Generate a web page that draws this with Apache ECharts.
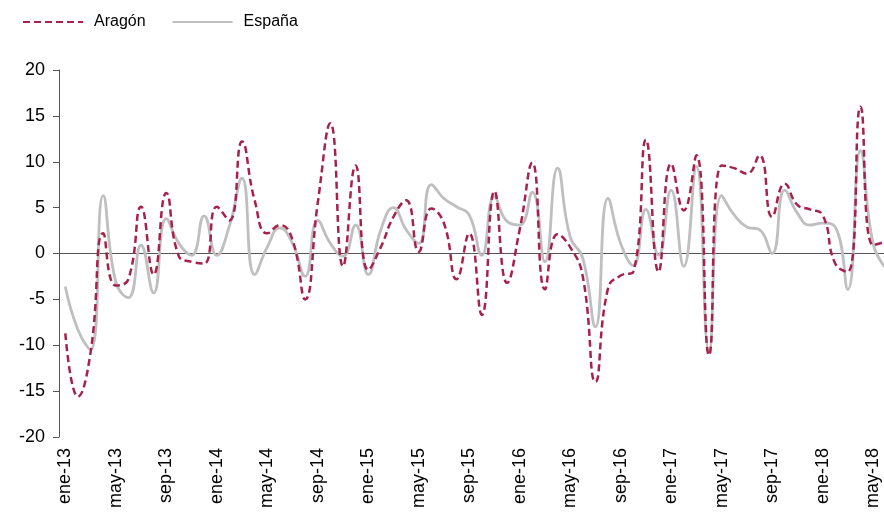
<!DOCTYPE html>
<html lang="es">
    <head>
        <meta charset="utf-8">
        <title>Aragón / España</title>
        <script type="text/javascript" src="https://cdn.jsdelivr.net/npm/echarts@6/dist/echarts.min.js"></script>
        <style>
            html, body { margin: 0; padding: 0; background: #fff; }
            #chart { width: 884px; height: 515px; }
        </style>
    </head>
    <body>
        <div id="chart"></div>
        <script>
            // meses ene-13 .. jun-18
            var meses = [
                'ene-13','feb-13','mar-13','abr-13','may-13','jun-13','jul-13','ago-13','sep-13','oct-13','nov-13','dic-13',
                'ene-14','feb-14','mar-14','abr-14','may-14','jun-14','jul-14','ago-14','sep-14','oct-14','nov-14','dic-14',
                'ene-15','feb-15','mar-15','abr-15','may-15','jun-15','jul-15','ago-15','sep-15','oct-15','nov-15','dic-15',
                'ene-16','feb-16','mar-16','abr-16','may-16','jun-16','jul-16','ago-16','sep-16','oct-16','nov-16','dic-16',
                'ene-17','feb-17','mar-17','abr-17','may-17','jun-17','jul-17','ago-17','sep-17','oct-17','nov-17','dic-17',
                'ene-18','feb-18','mar-18','abr-18','may-18','jun-18'
            ];
            var aragon = [
                -8.7, -15.6, -10.8, 2.2, -3.5, -2.8, 5.1, -2.3, 6.6, -0.3, -0.9, -1.1,
                5.1, 3.6, 12.2, 5.8, 2.2, 3.1, 1.5, -5.0, 5.5, 14.2, -1.4, 9.6,
                -1.8, 0.7, 4.0, 5.8, 0.2, 4.9, 3.3, -2.8, 2.2, -6.7, 6.8, -3.2,
                2.6, 9.9, -3.9, 2.1, 0.7, -2.5, -14.0, -3.8, -2.4, -2.0, 12.4, -2.0,
                9.8, 4.7, 10.7, -11.1, 9.6, 9.3, 8.7, 10.7, 4.0, 7.6, 5.3, 4.8,
                4.2, -1.1, -2.0, 16.0, 0.9, 1.3
            ];
            var espana = [
                -3.6, -8.3, -10.5, 6.3, -3.1, -4.8, 0.9, -4.3, 3.8, 1.1, -0.2, 4.1,
                -0.2, 3.0, 8.2, -2.3, 0.7, 2.8, 1.1, -2.5, 3.6, 1.1, -0.3, 3.1,
                -2.3, 2.6, 5.0, 2.6, 1.1, 7.5, 6.0, 5.1, 4.2, -0.2, 6.2, 3.5,
                3.1, 6.7, -0.9, 9.3, 1.8, -0.5, -8.0, 6.0, 1.1, -1.3, 4.8, -0.2,
                6.9, -1.4, 9.5, -10.7, 6.3, 4.2, 2.9, 2.6, 0.0, 6.9, 4.4, 3.1,
                3.3, 2.9, -3.9, 11.2, 1.1, -1.6
            ];
            var fuente = 'Liberation Sans, Arial, sans-serif';

            var myChart = echarts.init(document.getElementById('chart'));
            var option = {
                animation: false,
                legend: {
                    left: 17,
                    top: 9,
                    itemWidth: 60,
                    itemHeight: 14,
                    itemGap: 26,
                    itemStyle: { color: 'transparent', borderWidth: 0, opacity: 0 },
                    textStyle: {
                        fontFamily: fuente,
                        fontSize: 16,
                        color: '#000',
                        padding: [0, 0, 0, 6]
                    },
                    data: ['Aragón', 'España']
                },
                grid: {
                    left: 59,
                    right: -8,
                    top: 70,
                    bottom: 78,
                    outerBoundsMode: 'none'
                },
                xAxis: {
                    type: 'category',
                    data: meses,
                    boundaryGap: true,
                    axisLine: {
                        onZero: true,
                        lineStyle: { color: '#555', width: 1 }
                    },
                    axisTick: {
                        interval: 3,
                        length: 5,
                        lineStyle: { color: '#555' }
                    },
                    axisLabel: {
                        interval: 3,
                        rotate: 90,
                        margin: 11,
                        fontFamily: fuente,
                        fontSize: 18,
                        color: '#000'
                    },
                    splitLine: { show: false }
                },
                yAxis: {
                    type: 'value',
                    min: -20,
                    max: 20,
                    interval: 5,
                    axisLine: {
                        show: true,
                        lineStyle: { color: '#555', width: 1 }
                    },
                    axisTick: {
                        show: true,
                        length: 6,
                        lineStyle: { color: '#555' }
                    },
                    axisLabel: {
                        margin: 14,
                        fontFamily: fuente,
                        fontSize: 18,
                        color: '#000'
                    },
                    splitLine: { show: false }
                },
                series: [
                    {
                        name: 'España',
                        type: 'line',
                        data: espana,
                        smooth: 0.5,
                        symbol: 'none',
                        z: 2,
                        itemStyle: { color: '#bfbfbf' },
                        lineStyle: { color: '#bfbfbf', width: 2.8 }
                    },
                    {
                        name: 'Aragón',
                        type: 'line',
                        data: aragon,
                        smooth: 0.5,
                        symbol: 'none',
                        z: 3,
                        itemStyle: { color: '#a6224a' },
                        lineStyle: { color: '#a6224a', width: 2.5, type: [7, 4] }
                    }
                ]
            };
            myChart.setOption(option);
            window.onresize = function() {
                myChart.resize();
            }
        </script>
    </body>
</html>
